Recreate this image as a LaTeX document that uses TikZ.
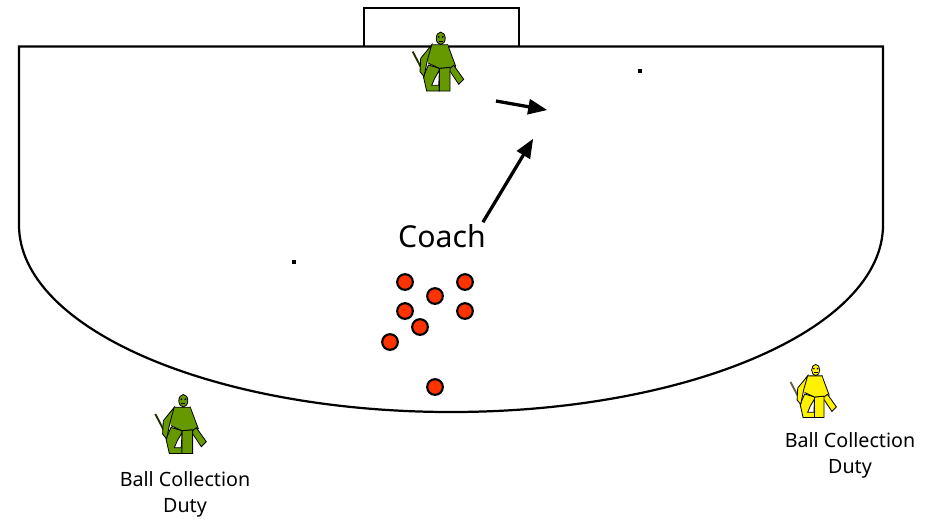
\documentclass[tikz,border=0pt]{standalone}
\usepackage{xcolor}
\usepackage{fontspec}
\setmainfont{Noto Sans}
\usepackage{tikz}
\usetikzlibrary{arrows}
\definecolor{keepergreen}{HTML}{669900}
\definecolor{ballred}{HTML}{FF3300}
\tikzset{
    ball/.style = {circle, draw = black, fill = ballred, line width = 1.8pt, minimum size = 0.47cm, inner sep = 0pt},
    speck/.style = {rectangle, fill = black, minimum size = 0.1cm, inner sep = 0pt},
    duty/.style = {align = center, font = \fontsize{16.8}{22}\selectfont},
    runline/.style = {-triangle 45, line width = 2.8pt},
    pics/keeper/.style = {code = {
        \draw[line width = 1.6pt, color = black!70!#1] (-28, 13.3) -- (-15.7, 36.7);
        \filldraw[color = black, fill = #1, line width = 0.7pt] (7, 6.5) -- (15, 28) -- (8, 31) -- (1, 15) -- cycle;
        \filldraw[color = black, fill = #1, line width = 0.7pt] (13, 27) -- (23, 41) -- (18, 46) -- (8, 31) -- cycle;
        \filldraw[color = black, fill = #1, line width = 0.7pt] (-12.3, 26.7) -- (-1.3, 30) -- (-1.3, 52.7) -- (-14, 52.7) -- (-17.3, 38.3) -- cycle;
        \filldraw[color = black, fill = #1, line width = 0.7pt] (-1.3, 30) -- (9.3, 29) -- (9.3, 52.7) -- (-1.3, 52.7) -- cycle;
        \fill[#1] (-9, 6.5) -- (7, 6.5) -- (9.3, 29) -- (-1.3, 30) -- (-12.3, 25) -- (-14.7, 18) -- cycle;
        \draw[line width = 0.7pt] (-9, 6.5) -- (7, 6.5) (9.3, 29) -- (-1.3, 30) -- (-12.3, 25);
        \filldraw[color = black, fill = #1, line width = 0.7pt] (-9, 6.5) -- (-20, 20) -- (-20.7, 33.3) -- (-16.7, 38.3) -- (-13.3, 21.7) -- cycle;
        \filldraw[color = black, fill = white, line width = 0.7pt] (-9, 47) -- (-2, 47) -- (-1.3, 32) -- (-6, 40) -- cycle;
        \filldraw[color = black, fill = #1, line width = 0.7pt] (0, 0) ellipse (4.5 and 6.2);
        \fill[black] (-2, -1.5) circle (1) (2, -1.5) circle (1);
        \draw[line width = 0.8pt] (-2, 2.8) -- (2, 2.8);
    }}
}

\begin{document}
\begin{tikzpicture}[x = 0.03cm, y = -0.03cm]
    \useasboundingbox (0, 0) rectangle (931, 519);

    % pitch
    \draw[line width = 1.9pt] (19, 225) -- (19, 46.5) -- (883, 46.5) -- (883, 225)
        arc (0 : -180 : 432 and -187);
    \draw[line width = 1.9pt] (364, 46.5) -- (364, 8) -- (519, 8) -- (519, 46.5);

    % keepers
    \pic at (440.7, 38.3) {keeper = keepergreen};
    \pic at (183.3, 400.7) {keeper = keepergreen};
    \pic[scale = 0.9] at (815.7, 370) {keeper = yellow};

    % balls
    \foreach \name/\x/\y in {a/405/282, b/465/282, c/435/296, d/405/311, e/465/311, f/420/327, g/390/342, h/435/387}
        \node[ball] (ball\name) at (\x, \y) {};

    \node[speck] (speckright) at (640, 71) {};
    \node[speck] (speckleft) at (294, 262) {};

    % labels
    \node[font = \fontsize{25.8}{28}\selectfont] (coach) at (442, 236) {Coach};
    \node[duty] (dutyleft) at (185, 494) {Ball Collection\\Duty};
    \node[duty] (dutyright) at (850, 455) {Ball Collection\\Duty};

    % runs
    \coordinate (runstart) at (496, 101);
    \coordinate (runend) at (547, 110);
    \coordinate (coachend) at (533, 139);
    \draw[runline] (runstart) -- (runend);
    \draw[runline] ([shift = {(-7, 2)}]coach.north east) -- (coachend);
\end{tikzpicture}
\end{document}
